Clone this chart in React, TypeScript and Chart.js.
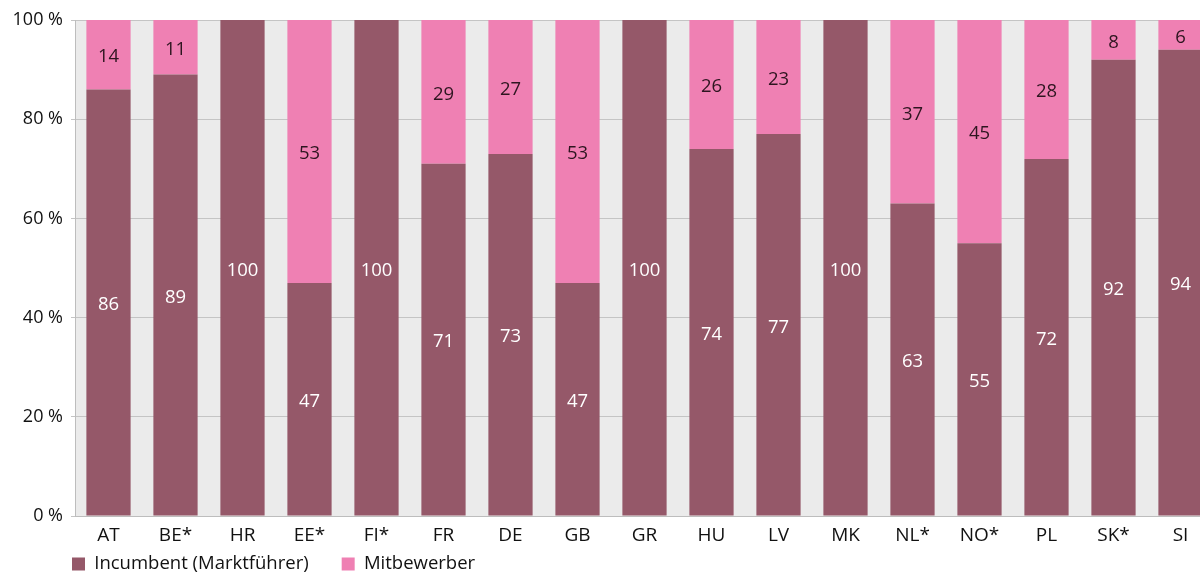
import React, { useEffect, useRef } from "react";
import { Chart, registerables } from "chart.js";

Chart.register(...registerables);

const categories = ["AT", "BE*", "HR", "EE*", "FI*", "FR", "DE", "GB", "GR", "HU", "LV", "MK", "NL*", "NO*", "PL", "SK*", "SI"];
const incumbent = [86, 89, 100, 47, 100, 71, 73, 47, 100, 74, 77, 100, 63, 55, 72, 92, 94];
const competitors = [14, 11, 0, 53, 0, 29, 27, 53, 0, 26, 23, 0, 37, 45, 28, 8, 6];
const yTicks = [0, 20, 40, 60, 80, 100];
const seriesNames = ["Incumbent (Marktführer)", "Mitbewerber"];

const COLOR_INC = "#955869";
const COLOR_COMP = "#ef80b3";
const FONT = "'Open Sans', Lato, sans-serif";

const plotBg = {
  id: "plotBg",
  beforeDraw(chart: any) {
    const { ctx, chartArea } = chart;
    ctx.save();
    ctx.fillStyle = "#ebebeb";
    ctx.fillRect(chartArea.left, chartArea.top, chartArea.right - chartArea.left, chartArea.bottom - chartArea.top);
    ctx.restore();
  },
};

const valueLabels = {
  id: "valueLabels",
  afterDatasetsDraw(chart: any) {
    const { ctx } = chart;
    ctx.save();
    ctx.font = `18.5px ${FONT}`;
    ctx.textAlign = "center";
    ctx.textBaseline = "middle";
    chart.data.datasets.forEach((ds: any, di: number) => {
      const meta = chart.getDatasetMeta(di);
      ctx.fillStyle = di === 0 ? "#ffffff" : "#2e1520";
      meta.data.forEach((el: any, i: number) => {
        const v = ds.data[i];
        if (!v) return;
        ctx.fillText(String(v), el.x, (el.y + el.base) / 2 + 2.5);
      });
    });
    ctx.restore();
  },
};

const legendPlace = {
  id: "legendPlace",
  afterLayout(chart: any) {
    const lg = chart.legend;
    if (!lg) return;
    const pad = lg.options.labels.padding;
    const w = 900;
    lg.left = 72 - pad;
    lg.right = lg.left + w;
    lg.width = w;
    lg.top = 564 - pad - 9.25;
    lg.bottom = lg.top + 60;
    lg.height = 60;
  },
};

export default function App() {
  const ref = useRef<HTMLCanvasElement | null>(null);
  useEffect(() => {
    if (!ref.current) return;
    const chart = new Chart(ref.current, {
      type: "bar",
      data: {
        labels: categories,
        datasets: [
          { label: seriesNames[0], data: incumbent, backgroundColor: COLOR_INC, borderWidth: 0 },
          { label: seriesNames[1], data: competitors, backgroundColor: COLOR_COMP, borderWidth: 0 },
        ],
      },
      options: {
        animation: false,
        responsive: false,
        maintainAspectRatio: false,
        events: [],
        layout: { padding: { top: 20, left: 0, right: 16, bottom: 0 } },
        datasets: { bar: { categoryPercentage: 0.66, barPercentage: 1 } },
        scales: {
          x: {
            stacked: true,
            grid: { display: false, drawTicks: false },
            border: { display: true, color: "#bdbdbd", width: 1 },
            ticks: { color: "#111", font: { family: FONT, size: 19 }, padding: 8, maxRotation: 0, autoSkip: false },
            afterFit(scale: any) { scale.height = 50; },
          },
          y: {
            stacked: true,
            min: 0,
            max: 100,
            afterBuildTicks(scale: any) { scale.ticks = yTicks.map((v) => ({ value: v })); },
            grid: { color: "#c4c4c4", lineWidth: 1, drawTicks: true, tickLength: 4 },
            border: { display: true, color: "#bdbdbd", width: 1 },
            ticks: { color: "#111", font: { family: FONT, size: 18 }, padding: 8, callback: (v: any) => `${v} %` },
            afterFit(scale: any) { scale.width = 75; },
          },
        },
        plugins: {
          legend: {
            position: "bottom",
            align: "start",
            fullSize: false,
            maxHeight: 10,
            labels: { boxWidth: 13, boxHeight: 13, padding: 33, color: "#111", font: { family: FONT, size: 18.5 } },
          },
          tooltip: { enabled: false },
        },
      },
      plugins: [plotBg, valueLabels, legendPlace],
    });
    return () => chart.destroy();
  }, []);
  return (
    <div style={{ position: "fixed", left: 0, top: 0, width: 1200, height: 576, overflow: "hidden", background: "#fff" }}>
      <canvas ref={ref} width={1230} height={576} style={{ display: "block", width: 1230, height: 576 }} />
    </div>
  );
}
